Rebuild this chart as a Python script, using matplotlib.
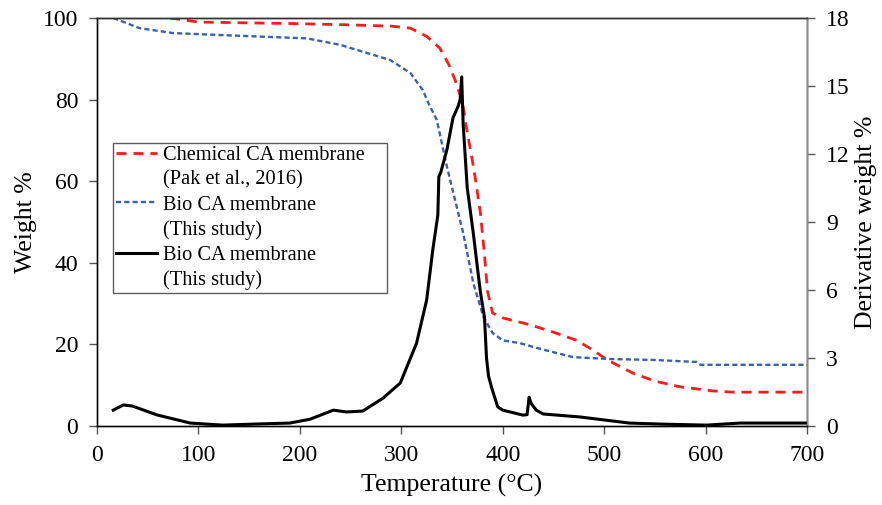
import numpy as np
import matplotlib
matplotlib.use('Agg')
import matplotlib.pyplot as plt
from matplotlib.lines import Line2D

plt.rcParams['font.family'] = ['Liberation Serif', 'DejaVu Serif']

# weight loss, chemical CA membrane (Pak et al., 2016)
chem_t = [72, 100, 150, 200, 250, 290, 309, 325, 338, 347, 353, 358, 361, 365, 370,
          374, 378, 382, 385, 390, 400, 427, 450, 473, 489, 503, 528, 550, 575, 607,
          627, 696]
chem_w = [100, 99.0, 98.8, 98.6, 98.3, 98.0, 97.5, 95.5, 92.6, 88.5, 84.8, 81, 78.2,
          72, 65.2, 59, 52.2, 42, 33, 27.7, 26.5, 24.8, 23, 21, 18.6, 16.2, 13, 11,
          9.6, 8.6, 8.3, 8.3]

# weight loss, bio CA membrane (this study)
bio_t = [16, 42, 75, 124, 207, 240, 289, 309, 321, 327, 335, 345, 353, 361, 371, 381,
         390, 400, 417, 434, 469, 483, 509, 548, 591, 595, 700]
bio_w = [100, 97.5, 96.3, 95.8, 95.0, 93.4, 89.7, 86.5, 82.4, 79, 75, 63.5, 55.4,
         47.3, 35, 26.7, 22.8, 21, 20.3, 19.1, 16.9, 16.7, 16.4, 16.2, 15.7, 15, 15]

# derivative weight, bio CA membrane
dtg_t = [16, 26, 35, 59, 92, 124, 158, 190, 210, 233, 246, 262, 282, 299, 315, 325,
         331, 336, 337, 339, 345, 351, 356, 358, 359.5, 361, 365, 371, 375, 378, 382,
         384, 386, 389, 395, 400, 420, 424, 426, 428, 433, 440, 476, 525, 560, 601,
         634, 700]
dtg_v = [0.7, 0.93, 0.88, 0.49, 0.13, 0.04, 0.09, 0.13, 0.3, 0.7, 0.62, 0.66, 1.23,
         1.9, 3.65, 5.56, 7.76, 9.3, 11.0, 11.2, 12.2, 13.6, 14.1, 14.4, 15.4, 13.3,
         10.5, 8.5, 7.0, 5.9, 4.8, 3.0, 2.2, 1.7, 0.85, 0.7, 0.48, 0.5, 1.27, 1.0,
         0.7, 0.53, 0.4, 0.13, 0.08, 0.04, 0.13, 0.13]

labels = ['Chemical CA membrane', '(Pak et al., 2016)',
          'Bio CA membrane', '(This study)',
          'Bio CA membrane', '(This study)']

fig = plt.figure(figsize=(8.82, 5.05), dpi=100)
ax = fig.add_axes([0.11, 0.1564, 0.805, 0.808])
ax2 = ax.twinx()

l1, = ax.plot(chem_t, chem_w, color='#ff1a1a', lw=2.0, dashes=(3.6, 2.5))
l2, = ax.plot(bio_t, bio_w, color='#3a62ab', lw=1.7, dashes=(2.2, 1.3))
l3, = ax2.plot(dtg_t, dtg_v, color='black', lw=2.2)

ax.set_xlim(0, 700)
ax.set_ylim(0, 100)
ax2.set_ylim(0, 18)
ax.set_xticks(np.arange(0, 701, 100))
ax.set_yticks(np.arange(0, 101, 20))
ax2.set_yticks(np.arange(0, 19, 3))

ax.set_xlabel('Temperature (\u00b0C)', fontsize=18.5, labelpad=6)
ax.set_ylabel('Weight %', fontsize=18.5, labelpad=4)
ax2.set_ylabel('Derivative weight %', fontsize=18.5, labelpad=4)

for a in (ax, ax2):
    a.tick_params(labelsize=17, direction='out', length=5.5, width=1, color='#555555',
                  pad=8)
    for s in a.spines.values():
        s.set_linewidth(1.0)
ax2.spines['right'].set_color('#888888')
ax.spines['left'].set_color('#333333')
ax.spines['bottom'].set_color('#333333')
ax2.spines['top'].set_color('#333333')

blank = Line2D([], [], color='none')
leg = ax2.legend([l1, blank, l2, blank, l3, blank], labels,
                 loc='upper left', bbox_to_anchor=(0.0225, 0.0, 0.386, 0.694),
                 mode='expand', borderaxespad=0,
                 fontsize=14.7, frameon=True, fancybox=False, labelspacing=0.27,
                 handlelength=2.0, handletextpad=0.3, borderpad=0.14)
leg.get_frame().set_edgecolor('#333333')
leg.get_frame().set_linewidth(1.0)

fig.savefig('out.png', dpi=100)
